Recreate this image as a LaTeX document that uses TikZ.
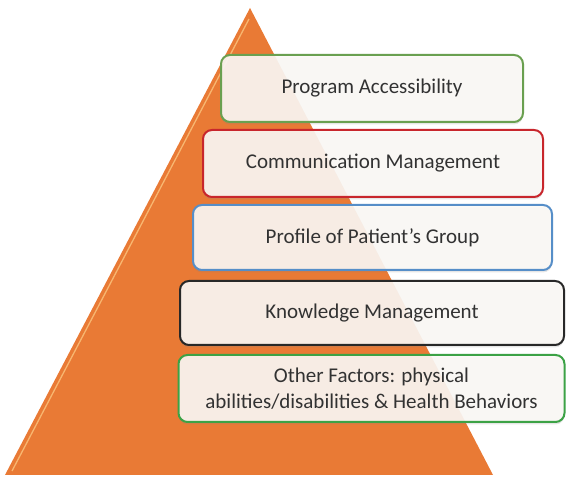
\documentclass[tikz,border=0pt]{standalone}
\usepackage{fontspec}
\setmainfont{Carlito}
\usetikzlibrary{shadows}

\definecolor{pyramid}{RGB}{233,122,53}
\definecolor{pyramidlight}{RGB}{248,182,112}
\definecolor{boxfill}{RGB}{251,249,246}
\definecolor{textgray}{RGB}{50,50,50}
\definecolor{olivegreen}{RGB}{106,160,80}
\definecolor{boxred}{RGB}{200,38,44}
\definecolor{boxblue}{RGB}{86,142,200}
\definecolor{boxblack}{RGB}{40,40,40}
\definecolor{boxgreen}{RGB}{60,162,70}

\begin{document}
\begin{tikzpicture}[x=1pt,y=1pt,
    layer/.style={draw, line width=2pt, rounded corners=9pt, fill=boxfill,
        fill opacity=0.9, text opacity=1, text=textgray, align=center,
        font=\fontsize{21}{26}\selectfont, inner sep=0pt,
        drop shadow={shadow xshift=0pt, shadow yshift=-2.5pt, opacity=0.2}}]
    \useasboundingbox (0,0) rectangle (566,478);

    % the pyramid
    \coordinate (L) at (5,3);
    \coordinate (R) at (493,3);
    \coordinate (T) at (250,470);
    \fill[pyramid] (L) -- (R) -- (T) -- cycle;
    \draw[pyramidlight, line width=1.3pt] (12,7) -- (249,459);

    % the five layers
    \node[layer, draw=olivegreen, minimum width=302, minimum height=67] (access) at (372,389.5) {Program Accessibility};
    \node[layer, draw=boxred, minimum width=340, minimum height=67] (comm) at (373,314.5) {Communication Management};
    \node[layer, draw=boxblue, minimum width=359, minimum height=65] (profile) at (372.5,240.5) {Profile of Patient’s Group};
    \node[layer, draw=boxblack, minimum width=384, minimum height=64] (knowledge) at (372,165) {Knowledge Management};
    \node[layer, draw=boxgreen, minimum width=386, minimum height=67] (other) at (371.5,89.5) {Other Factors: physical\\abilities/disabilities \& Health Behaviors};
\end{tikzpicture}
\end{document}
